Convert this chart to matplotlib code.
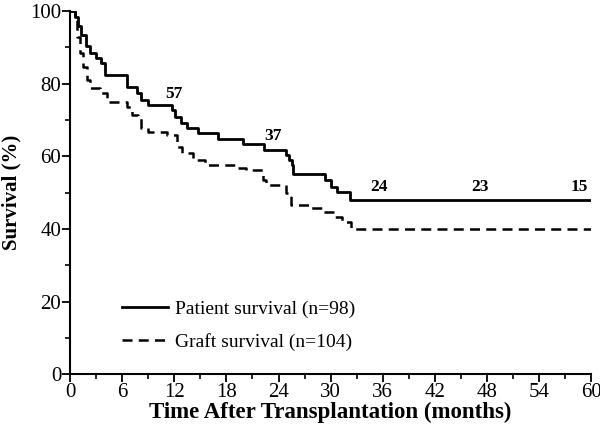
import matplotlib
matplotlib.use("Agg")
import matplotlib.pyplot as plt
from matplotlib.ticker import MultipleLocator

# Patient survival (solid), Kaplan-Meier steps
patient_t = [0, 0.6, 0.9, 1.2, 1.8, 2.3, 3.0, 3.5, 4.0, 6.5, 7.7, 8.2, 9.0,
             11.7, 12.1, 12.8, 13.4, 14.7, 17.0, 19.9, 22.3, 24.9, 25.2, 25.5,
             25.7, 29.3, 30.0, 30.7, 32.2, 60]
patient_s = [100, 98.5, 96.0, 93.4, 90.5, 88.4, 87.0, 85.7, 82.4, 79.1, 77.4,
             75.5, 74.1, 72.7, 70.9, 69.1, 67.7, 66.3, 64.8, 63.3, 61.7, 60.3,
             59.0, 57.6, 55.0, 53.6, 51.6, 50.2, 47.9, 47.9]

# Graft survival (dashed)
graft_t = [0, 0.5, 0.8, 1.1, 1.5, 1.9, 2.3, 3.4, 4.2, 6.5, 7.1, 7.8, 8.2, 9.0,
           11.1, 12.3, 12.9, 14.2, 15.5, 19.2, 20.3, 22.2, 22.6, 24.9, 25.4,
           27.7, 29.0, 30.4, 31.3, 32.3, 60]
graft_s = [100, 97.5, 93.0, 88.4, 84.5, 81.0, 78.8, 77.5, 75.0, 73.6, 71.3,
           70.5, 67.7, 66.7, 65.8, 62.6, 60.8, 59.0, 57.6, 56.7, 56.2, 53.4,
           52.0, 49.8, 46.6, 45.7, 44.7, 43.3, 42.0, 40.1, 40.1]

# numbers at risk
risk_t = [11.9, 23.3, 35.6, 47.2, 58.6]
risk_y = [75.0, 63.5, 49.3, 49.3, 49.3]
risk_n = ["57", "37", "24", "23", "15"]

plt.rcParams['font.family'] = ['Liberation Serif', 'DejaVu Serif']

fig = plt.figure(figsize=(6, 4.29), dpi=100, facecolor='w')
ax = fig.add_axes([0.117, 0.128, 0.868, 0.846])

ax.plot(patient_t, patient_s, drawstyle='steps-post', color='black', lw=2,
        label='Patient survival (n=98)')
ax.plot(graft_t, graft_s, drawstyle='steps-post', color='black', lw=1.8,
        dashes=(4, 2.5), label='Graft survival (n=104)')

for x, y, n in zip(risk_t, risk_y, risk_n):
    ax.text(x, y, n, ha='center', va='bottom', fontsize=12.5, fontweight='bold')

ax.set_xlim(0, 60)
ax.set_ylim(0, 100)
ax.xaxis.set_major_locator(MultipleLocator(6))
ax.xaxis.set_minor_locator(MultipleLocator(3))
ax.yaxis.set_major_locator(MultipleLocator(20))
ax.yaxis.set_minor_locator(MultipleLocator(10))
ax.spines['top'].set_visible(False)
ax.spines['right'].set_visible(False)
for sp in ['left', 'bottom']:
    ax.spines[sp].set_linewidth(1.5)
ax.tick_params(which='major', length=5.5, width=1.3, labelsize=15, pad=1)
ax.tick_params(which='minor', length=3.5, width=1.2)

ax.set_xlabel('Time After Transplantation (months)', fontsize=16.5,
              fontweight='bold', labelpad=0)
ax.set_ylabel('Survival (%)', fontsize=15, fontweight='bold', labelpad=6)

ax.legend(loc='lower left', bbox_to_anchor=(0.065, 0.015), frameon=False,
          fontsize=14, handlelength=2.4, handletextpad=0.35, labelspacing=0.78)

plt.savefig('out.png', dpi=100)
